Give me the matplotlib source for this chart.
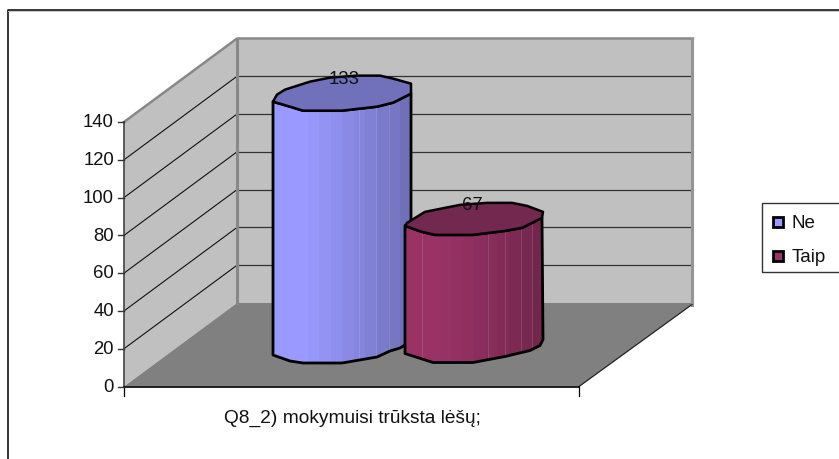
import matplotlib
matplotlib.use('Agg')
import matplotlib.pyplot as plt
from matplotlib.patches import Polygon, Rectangle

plt.rcParams['font.family'] = ['Liberation Sans', 'DejaVu Sans']

series = ['Ne', 'Taip']
values = [133, 67]
category = 'Q8_2) mokymuisi trūksta lėšų;'
ticks = [0, 20, 40, 60, 80, 100, 120, 140]

# the picture is laid out in pixels, y going down
x0, x1, y0 = 124, 579, 386.5
dx, dy = 113, -83.5
unit = 264.5 / 140   # px per value on the axis
bar_unit = 1.905     # bars look a bit taller than the axis scale

def ypos(v):
    return y0 - v * unit

fig = plt.figure(figsize=(8.39, 4.59), dpi=100)
ax = fig.add_axes([0, 0, 1, 1])
ax.set_xlim(0, 839)
ax.set_ylim(459, 0)
ax.axis('off')

# outer frame, only top and left are in the image
ax.plot([8, 8, 839], [459, 9.5, 9.5], color='black', lw=1.1, zorder=1)
ax.plot([8, 839], [10.8, 10.8], color='#c8c8c8', lw=0.7, zorder=1)

# walls and floor
top = ypos(ticks[-1])
ax.add_patch(Polygon([(x0, y0), (x0 + dx, y0 + dy), (x0 + dx, top + dy), (x0, top)], fc='#c0c0c0', ec='none', zorder=2))
ax.add_patch(Polygon([(x0 + dx, y0 + dy), (x1 + dx, y0 + dy), (x1 + dx, top + dy), (x0 + dx, top + dy)], fc='#c0c0c0', ec='none', zorder=2))
ax.add_patch(Polygon([(x0, y0), (x1, y0), (x1 + dx, y0 + dy + 1.5), (x1 + dx, y0 + dy), (x0 + dx, y0 + dy)], fc='#808080', ec='none', zorder=2))

for t in ticks[1:-1]:
    y = ypos(t)
    ax.plot([x0, x0 + dx], [y, y + dy], color='#111111', lw=0.8, zorder=3)
    ax.plot([x0 + dx + 2, x1 + dx], [y + dy, y + dy], color='#333333', lw=0.9, zorder=3)

# wall edges
ax.plot([x0, x0 + dx, x1 + dx + 1], [top, top + dy, top + dy], color='#888888', lw=1.8, zorder=3)
ax.plot([x0 + dx, x0 + dx], [top + dy, y0 + dy], color='#888888', lw=2.2, zorder=3)
ax.plot([x1 + dx, x1 + dx], [top + dy, y0 + dy + 1.5], color='#959595', lw=2.2, zorder=3)
ax.plot([x1, x1 + dx], [y0, y0 + dy + 1.5], color='#222222', lw=0.9, zorder=3)

# axis lines and ticks
ax.plot([x0, x0], [top, y0], color='#444444', lw=1.2, zorder=4)
ax.plot([x0, x1], [y0, y0], color='black', lw=1.2, zorder=4)
ax.plot([x0, x0], [y0, y0 + 9], color='black', lw=0.9, zorder=4)
ax.plot([x1, x1], [y0, y0 + 9], color='black', lw=0.9, zorder=4)
for t in ticks:
    y = ypos(t)
    ax.plot([x0 - 6, x0], [y, y], color='#333333', lw=1, zorder=4)
    ax.text(x0 - 10, y + 0.8, str(t), ha='right', va='center', fontsize=13.3, color='#111111', zorder=6)

ax.text(352, 418, category, ha='center', va='center', fontsize=13.8, color='#111111', zorder=6)

# the faceted cylinders: outline offsets from the left edge of the top rim / base
back_rim = [[(0, 0), (4, -7), (12, -12), (37, -20), (57, -24), (84, -26), (107, -26), (120, -23), (138, -18)],
            [(0, 0), (2, -3), (20, -14), (55, -21), (82, -23), (107, -23), (122, -20), (138, -14)]]
front_rim = [[(138, -8), (120, 1), (104, 5), (69, 9), (30, 9), (17, 5)],
             [(137, -8), (117, 2), (100, 5), (68, 9), (30, 9), (17, 6)]]
base = [[(0, 0), (17, 6), (30, 8), (69, 8), (104, 2), (117, -4), (127, -7), (132, -10), (138, -16)],
        [(0, 0), (28, 9), (68, 9), (100, 3), (125, -3), (135, -8), (138, -14)]]
bar_x = [273, 405]
base_y = [355, 353.5]
side_light = ['#9999ff', '#993366']
side_dark = ['#7070b8', '#72264c']
rim_col = ['#7171bb', '#72284f']
label_xy = [(344, 80), (472, 205.5)]
facet_lines = [[86, 103, 116], [17, 83, 100, 116, 127]]

def shade(c1, c2, f):
    a = matplotlib.colors.to_rgb(c1)
    b = matplotlib.colors.to_rgb(c2)
    return tuple(a[i] + (b[i] - a[i]) * f for i in range(3))

for i in range(2):
    bx = bar_x[i]
    by = base_y[i]
    ty = by - values[i] * bar_unit
    rim_front = front_rim[i][::-1]
    # left to right bottom edge and top front edge
    low = [(bx + p[0], by + p[1]) for p in base[i]]
    up = [(bx, ty)] + [(bx + p[0], ty + p[1]) for p in rim_front]
    w = 138
    n = 12
    outline = up + low[::-1]
    clip = Polygon(outline, fc='none', ec='none', zorder=5 + i * 2)
    ax.add_patch(clip)
    for k in range(n):
        f = k / (n - 1)
        # brightest a little left of the middle, darker to the right
        col = shade(side_light[i], side_dark[i], max(0, (f - 0.2) / 0.8) ** 1.2)
        r = Rectangle((bx + w * k / n, ty - 30), w / n + 0.6, by - ty + 50, fc=col, ec='none', zorder=5 + i * 2)
        ax.add_patch(r)
        r.set_clip_path(clip)
    for off in facet_lines[i]:
        ln, = ax.plot([bx + off, bx + off], [ty - 30, by + 20], color='white', alpha=0.12, lw=0.8, zorder=5.1 + i * 2)
        ln.set_clip_path(clip)
    ax.add_patch(Polygon(outline, fc='none', ec='black', lw=2, joinstyle='round', zorder=5.2 + i * 2))
    rim = [(bx + p[0], ty + p[1]) for p in back_rim[i]] + up[:0:-1]
    ax.add_patch(Polygon(rim, fc=rim_col[i], ec='black', lw=1.8, joinstyle='round', zorder=5.3 + i * 2))
    ax.text(label_xy[i][0], label_xy[i][1], str(values[i]), ha='center', va='center', fontsize=13.3, color='#111111', zorder=5.4 + i * 2)

# legend
ax.add_patch(Rectangle((762, 203), 90, 69, fc='white', ec='#333333', lw=1, zorder=6))
key_y = [222, 256]
for i in range(2):
    ax.add_patch(Rectangle((773, key_y[i] - 5), 10, 10, fc=side_light[i], ec='black', lw=2, zorder=7))
    ax.text(791.5, key_y[i] + 1.5, series[i], ha='left', va='center', fontsize=13.5, color='#111111', zorder=7)

fig.savefig('out.png', dpi=100)
